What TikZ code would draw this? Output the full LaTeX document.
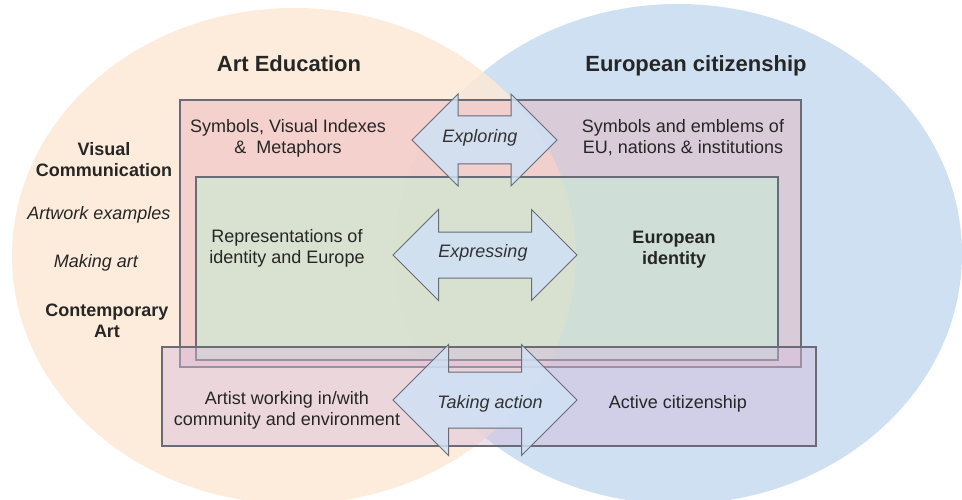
\documentclass[tikz,border=0pt]{standalone}
\usepackage{fontspec}
\setmainfont{Liberation Sans}
\usetikzlibrary{shapes.arrows}

\definecolor{eduorange}{RGB}{253,233,214}
\definecolor{eublue}{RGB}{206,224,242}
\definecolor{boxpink}{RGB}{234,178,188}
\definecolor{boxgreen}{RGB}{200,236,212}
\definecolor{boxpurple}{RGB}{214,188,222}
\definecolor{arrowblue}{RGB}{207,225,245}
\definecolor{edgegray}{RGB}{105,108,118}

\begin{document}
\begin{tikzpicture}[x=1pt, y=-1pt,
    every node/.style={font=\fontsize{18}{21}\selectfont, text=black!85, align=center},
    title/.style={font=\fontsize{22}{26}\selectfont\bfseries},
    side/.style={font=\fontsize{18}{21}\selectfont\bfseries},
    sideit/.style={font=\fontsize{18}{21}\selectfont\itshape},
    box/.style={draw=edgegray, line width=1.3pt},
    twoway/.style={double arrow, draw=edgegray, line width=1pt, fill=arrowblue, fill opacity=0.85,
        double arrow tip angle=90, inner xsep=0pt, inner ysep=22.5pt, minimum height=184pt,
        minimum width=90pt, double arrow head extend=22.5pt},
    verb/.style={font=\fontsize{18}{21}\selectfont\itshape, text=black!80}
]
\clip (0,0) rectangle (962,500);

% Circles
\fill[eublue] (678,254) ellipse [x radius=284pt, y radius=250pt];
\fill[eduorange, fill opacity=0.85] (294,256) ellipse [x radius=282pt, y radius=248pt];

% Boxes
\draw[box, fill=boxpink, fill opacity=0.45] (180,100) rectangle (801,367);
\draw[box, fill=boxgreen, fill opacity=0.6] (196,177) rectangle (778,360);
\draw[box, fill=boxpurple, fill opacity=0.45] (162,347) rectangle (816,446);

% Arrows
\node[twoway, minimum height=145pt, minimum width=91pt, inner ysep=23.5pt,
    double arrow head extend=22pt] (explore) at (484.5,140) {};
\node[twoway] (express) at (485,255) {};
\node[twoway, minimum width=110pt, inner ysep=27.5pt, double arrow head extend=27.5pt] (action) at (485,400) {};
\node[verb, anchor=base] (exploretxt) at (480,143) {Exploring};
\node[verb, anchor=base] (expresstxt) at (483,257) {Expressing};
\node[verb, anchor=base] (actiontxt) at (490,408) {Taking action};

% Headings
\node[title, anchor=base] (edu) at (289,72) {Art Education};
\node[title, anchor=base] (citizen) at (696,72) {European citizenship};

% Left labels
\node[side, anchor=base] (viscom) at (104,177) {Visual\\Communication};
\node[sideit, anchor=base] (artwork) at (99,220) {Artwork examples};
\node[sideit, anchor=base] (making) at (96,267) {Making art};
\node[side, anchor=base] (contemp) at (107,337) {Contemporary\\Art};

% Box texts
\node[anchor=base] (symbols) at (288,154) {Symbols, Visual Indexes\\\&~~Metaphors};
\node[anchor=base] (emblems) at (683,154) {Symbols and emblems of\\EU, nations \& institutions};
\node[anchor=base] (represent) at (287,263) {Representations of\\identity and Europe};
\node[side, anchor=base] (euid) at (674,265) {European\\identity};
\node[anchor=base] (artist) at (287,425) {Artist working in/with\\community and environment};
\node[anchor=base] (active) at (678,408) {Active citizenship};

\end{tikzpicture}
\end{document}
